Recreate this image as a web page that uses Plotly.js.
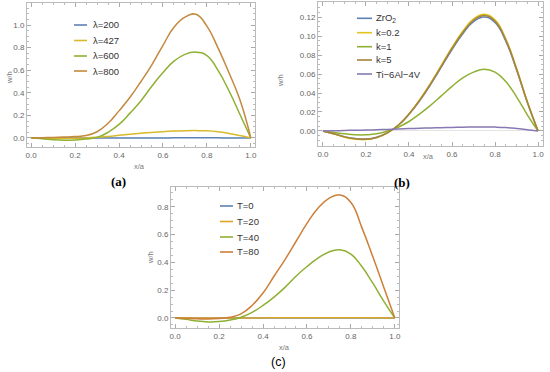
<!DOCTYPE html>
<html>
<head>
<meta charset="utf-8">
<script src="https://cdn.plot.ly/plotly-3.0.1.min.js"></script>
<style>html,body{margin:0;padding:0;background:#fff;}#chart{width:550px;height:372px;}</style>
</head>
<body>
<div id="chart"></div>
<script>
// ---------- data ----------
const xs = [0,0.05,0.1,0.15,0.2,0.25,0.3,0.35,0.4,0.45,0.5,0.55,0.6,0.65,0.7,0.75,0.8,0.85,0.9,0.95,1.0];

// panel (a)
const namesA = ["λ=200","λ=427","λ=600","λ=800"];
const lam200 = [0,0,0,0,0,0,0.0001,0.0002,0.0003,0.0004,0.0005,0.0006,0.0007,0.0008,0.0009,0.0009,0.0009,0.0008,0.0006,0.0003,0];
const lam427 = [0,-0.001,-0.003,-0.004,-0.003,0,0.006,0.014,0.023,0.032,0.041,0.049,0.056,0.061,0.064,0.065,0.063,0.055,0.040,0.021,0];
const lam600 = [0,-0.006,-0.015,-0.02,-0.018,-0.01,0.005,0.05,0.12,0.22,0.33,0.46,0.58,0.68,0.74,0.76,0.73,0.60,0.42,0.21,0];
const lam800 = [0,0.002,0.005,0.008,0.012,0.022,0.055,0.13,0.24,0.36,0.50,0.65,0.82,0.98,1.07,1.095,0.99,0.80,0.58,0.34,0];

// panel (b)
const namesB = ["ZrO<sub>2</sub>","k=0.2","k=1","k=5","Ti−6Al−4V"];
const zro2 = [0,-0.0028,-0.006,-0.008,-0.0085,-0.0066,-0.0018,0.006,0.0175,0.032,0.0488,0.0672,0.0858,0.1024,0.1152,0.120,0.1142,0.0946,0.0644,0.0302,0];
const k02  = [0,-0.003,-0.0065,-0.0085,-0.009,-0.007,-0.002,0.006,0.018,0.033,0.050,0.069,0.088,0.105,0.118,0.123,0.117,0.097,0.066,0.031,0];
const k1   = [0,-0.0015,-0.003,-0.004,-0.004,-0.003,0,0.004,0.010,0.018,0.027,0.037,0.047,0.056,0.062,0.065,0.062,0.052,0.036,0.017,0];
const k5   = [0,-0.0029,-0.0062,-0.0082,-0.0087,-0.0068,-0.0019,0.006,0.0178,0.0325,0.0494,0.0681,0.0869,0.1037,0.1166,0.1215,0.1156,0.0958,0.0652,0.0306,0];
const ti   = [0,0.0002,0.0005,0.0008,0.001,0.0013,0.0017,0.0021,0.0025,0.0029,0.0032,0.0035,0.0038,0.004,0.0042,0.0043,0.0041,0.0036,0.0026,0.0013,0];

// panel (c)
const namesC = ["T=0","T=20","T=40","T=80"];
const t0  = [0,0,0,0,0,0,0,0,0,0,0,0,0,0,0,0,0,0,0,0,0];
const t20 = [0,0,0,0,0,0,0.0002,0.0005,0.0008,0.0011,0.0014,0.0017,0.0019,0.0021,0.0022,0.0022,0.0021,0.0018,0.0013,0.0007,0];
const t40 = [0,-0.01,-0.022,-0.028,-0.026,-0.015,0.005,0.04,0.09,0.15,0.22,0.30,0.37,0.43,0.475,0.49,0.46,0.37,0.25,0.12,0];
const t80 = [0,-0.003,-0.006,-0.007,-0.003,0.005,0.03,0.09,0.18,0.30,0.42,0.55,0.68,0.79,0.86,0.885,0.83,0.65,0.44,0.22,0];

const colorsA = ["#5e81b5","#d8ba2a","#8fb032","#c4883e"];
const colorsB = ["#5e81b5","#e2c41c","#8fb032","#a7823a","#8778b3"];
const colorsC = ["#5e81b5","#dfa62a","#8fb032","#cd7f3a"];

// ---------- build ----------
const W = 550, H = 372;
const px = x => x / W, py = y => 1 - y / H;

function mk(ys, color, xa, ya, name){
  return {x: xs, y: ys, type:'scatter', mode:'lines', line:{color:color, width:1.5, shape:'spline', smoothing:1.3},
          xaxis:xa, yaxis:ya, name:name, showlegend:false, hoverinfo:'skip'};
}
const data = [];
[lam200,lam427,lam600,lam800].forEach((s,i)=>data.push(mk(s,colorsA[i],'x','y',namesA[i])));
[zro2,k02,k1,k5,ti].forEach((s,i)=>data.push(mk(s,colorsB[i],'x2','y2',namesB[i])));
[t0,t20,t40,t80].forEach((s,i)=>data.push(mk(s,colorsC[i],'x3','y3',namesC[i])));

const tickFont = {family:'Liberation Sans, Arial, sans-serif', size:8, color:'#666'};
function xax(dom, anchor){
  return {domain:dom, anchor:anchor, range:[-0.019,1.019], tickvals:[0,0.2,0.4,0.6,0.8,1.0], tickformat:'.1f',
    ticks:'inside', ticklen:4, tickcolor:'#aaa', mirror:'allticks', showline:true, linecolor:'#bbb', linewidth:1,
    showgrid:false, zeroline:false, tickfont:tickFont,
    minor:{dtick:0.05, tick0:0, ticks:'inside', ticklen:2, tickcolor:'#bbb', showgrid:false}};
}
function yax(dom, anchor, range, dtick, mdtick, fmt){
  return {domain:dom, anchor:anchor, range:range, dtick:dtick, tick0:0, tickformat:fmt,
    ticks:'inside', ticklen:4, tickcolor:'#aaa', mirror:'allticks', showline:true, linecolor:'#bbb', linewidth:1,
    showgrid:false, zeroline:true, zerolinecolor:'#e4e4e4', zerolinewidth:1, tickfont:tickFont,
    minor:{dtick:mdtick, tick0:0, ticks:'inside', ticklen:2, tickcolor:'#bbb', showgrid:false}};
}

const layout = {
  width:W, height:H, margin:{l:0,r:0,t:0,b:0}, paper_bgcolor:'#fff', plot_bgcolor:'#fff', showlegend:false,
  xaxis: xax([px(27),px(255)], 'y'),
  yaxis: yax([py(147),py(3)], 'x', [-0.08,1.195], 0.2, 0.05, '.1f'),
  xaxis2: Object.assign(xax([px(318),px(543)], 'y2'), {range:[-0.023,1.023]}),
  yaxis2: yax([py(146),py(2)], 'x2', [-0.0158,0.1358], 0.02, 0.005, '.2f'),
  xaxis3: xax([px(171),px(399)], 'y3'),
  yaxis3: yax([py(328),py(187)], 'x3', [-0.072,0.942], 0.2, 0.05, '.1f'),
  shapes: [], annotations: []
};

// legends (drawn as short lines + text, Mathematica style)
function legend(names, colors, x0, x1, xt, ys){
  names.forEach((n,i)=>{
    layout.shapes.push({type:'line', xref:'paper', yref:'paper', x0:px(x0), x1:px(x1), y0:py(ys[i]), y1:py(ys[i]),
      line:{color:colors[i], width:1.6}});
    layout.annotations.push({xref:'paper', yref:'paper', x:px(xt), y:py(ys[i]), xanchor:'left', yanchor:'middle',
      text:n, showarrow:false, font:{family:'Liberation Sans, Arial, sans-serif', size:9.5, color:'#333'}});
  });
}
legend(namesA, colorsA, 74, 87, 91, [25,40.5,56,71]);
legend(namesB, colorsB, 357, 372, 374, [18.3,32.7,46.7,60,74]);
legend(namesC, colorsC, 220, 233, 235, [206,221.5,237,252]);

// axis titles and panel labels
function txt(t, x, y, size, color, extra){
  layout.annotations.push(Object.assign({xref:'paper', yref:'paper', x:px(x), y:py(y), xanchor:'center', yanchor:'middle',
    text:t, showarrow:false, font:{family:'Liberation Sans, Arial, sans-serif', size:size, color:color}}, extra||{}));
}
txt('w/h', 9, 78, 7.5, '#777', {textangle:-90});
txt('w/h', 280, 80, 7.5, '#777', {textangle:-90});
txt('w/h', 150, 258, 7.5, '#777', {textangle:-90});
txt('x/a', 140, 166, 7.5, '#777');
txt('x/a', 428, 156, 7.5, '#777');
txt('x/a', 284, 347, 7.5, '#777');
txt('<b>(a)</b>', 118, 181, 13, '#000', {font:{family:'Liberation Serif, serif', size:13, color:'#000'}});
txt('<b>(b)</b>', 402, 182, 13, '#000', {font:{family:'Liberation Serif, serif', size:13, color:'#000'}});
txt('(c)', 278, 362, 12.5, '#000', {font:{family:'Liberation Sans, Arial, sans-serif', size:12.5, color:'#000'}});

Plotly.newPlot('chart', data, layout, {staticPlot:true, displayModeBar:false});
</script>
</body>
</html>
